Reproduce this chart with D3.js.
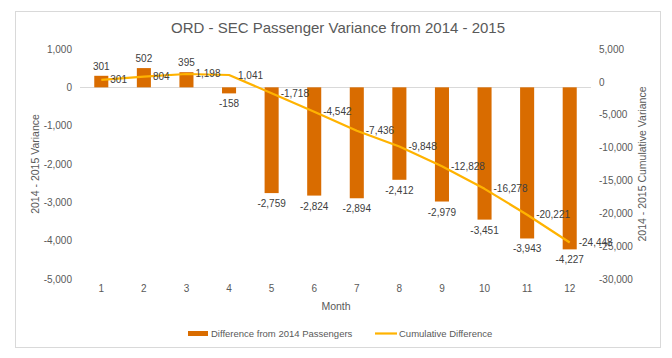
<!DOCTYPE html>
<html>
<head>
<meta charset="utf-8">
<script src="https://cdn.jsdelivr.net/npm/d3@7"></script>
<style>
  html, body { margin: 0; padding: 0; background: #fff; }
  svg { display: block; font-family: "Liberation Sans", Arial, sans-serif; }
</style>
</head>
<body>
<svg id="chart" width="672" height="358"></svg>
<script>
const months = [1, 2, 3, 4, 5, 6, 7, 8, 9, 10, 11, 12];
const difference = [301, 502, 395, -158, -2759, -2824, -2894, -2412, -2979, -3451, -3943, -4227];
const cumulative = [301, 804, 1198, 1041, -1718, -4542, -7436, -9848, -12828, -16278, -20221, -24448];
const leftTicks = [1000, 0, -1000, -2000, -3000, -4000, -5000];
const rightTicks = [5000, 0, -5000, -10000, -15000, -20000, -25000, -30000];
const titleText = "ORD - SEC Passenger Variance from 2014 - 2015";
const seriesNames = ["Difference from 2014 Passengers", "Cumulative Difference"];

const svg = d3.select("#chart");
const W = 672, H = 358;
const plot = { left: 80, right: 591, top: 49, bottom: 279 };
const barColor = "#D96C00";
const lineColor = "#FFB300";
const textGrey = "#595959";
const labelGrey = "#404040";
const locale = d3.formatLocale({ decimal: ".", thousands: ",", grouping: [3], currency: ["$", ""], minus: "-" });
const fmt = locale.format(",");
const FONT = "Liberation Sans, Arial, sans-serif";

svg.append("rect").attr("width", W).attr("height", H).attr("fill", "#fff");
svg.append("rect").attr("x", 15.5).attr("y", 11.5).attr("width", 645).attr("height", 336)
  .attr("fill", "#fff").attr("stroke", "#d9d9d9").attr("stroke-width", 1);

const x = d3.scaleBand().domain(months).range([plot.left, plot.right])
  .paddingInner(0.67).paddingOuter(0.335);
const yL = d3.scaleLinear().domain([-5000, 1000]).range([plot.bottom, plot.top]);
const yR = d3.scaleLinear().domain([-30000, 5000]).range([plot.bottom, plot.top]);

// title
svg.append("text").attr("x", 338).attr("y", 33).attr("text-anchor", "middle")
  .attr("font-size", 15).attr("fill", textGrey).text(titleText);

// left axis
const axL = svg.append("g").attr("transform", `translate(${plot.left - 8},0)`)
  .call(d3.axisLeft(yL).tickValues(leftTicks).tickFormat(fmt).tickSize(0).tickPadding(0));
axL.select(".domain").remove();
axL.selectAll("text").attr("font-size", 10).attr("fill", textGrey).attr("font-family", FONT);

// right axis
const axR = svg.append("g").attr("transform", `translate(${plot.right + 8},0)`)
  .call(d3.axisRight(yR).tickValues(rightTicks).tickFormat(fmt).tickSize(0).tickPadding(0));
axR.select(".domain").remove();
axR.selectAll("text").attr("font-size", 10).attr("fill", textGrey).attr("font-family", FONT);

// x axis labels
const axX = svg.append("g").attr("transform", `translate(0,${plot.bottom + 6})`)
  .call(d3.axisBottom(x).tickSize(0).tickPadding(0));
axX.select(".domain").remove();
axX.selectAll("text").attr("font-size", 10).attr("fill", textGrey).attr("font-family", FONT);

// zero line
svg.append("line").attr("x1", plot.left).attr("x2", plot.right)
  .attr("y1", Math.round(yL(0)) + 0.5).attr("y2", Math.round(yL(0)) + 0.5)
  .attr("stroke", "#d9d9d9").attr("stroke-width", 1);

// bars
svg.append("g").selectAll("rect").data(months).join("rect")
  .attr("x", (d) => x(d))
  .attr("width", x.bandwidth())
  .attr("y", (d, i) => Math.min(yL(0), yL(difference[i])))
  .attr("height", (d, i) => Math.abs(yL(difference[i]) - yL(0)))
  .attr("fill", barColor);

// bar labels
svg.append("g").selectAll("text").data(months).join("text")
  .attr("x", (d) => x(d) + x.bandwidth() / 2)
  .attr("y", (d, i) => difference[i] >= 0 ? yL(difference[i]) - 6 : yL(difference[i]) + 14)
  .attr("text-anchor", "middle").attr("font-size", 10).attr("fill", labelGrey)
  .text((d, i) => fmt(difference[i]));

// cumulative line
const line = d3.line().x((d, i) => x(months[i]) + x.bandwidth() / 2).y((d) => yR(d));
svg.append("path").datum(cumulative).attr("d", line)
  .attr("fill", "none").attr("stroke", lineColor).attr("stroke-width", 2.2)
  .attr("stroke-linejoin", "round");

// line labels
svg.append("g").selectAll("text").data(cumulative).join("text")
  .attr("x", (d, i) => x(months[i]) + x.bandwidth() / 2 + 9)
  .attr("y", (d) => yR(d) + 3.5)
  .attr("font-size", 10).attr("fill", labelGrey)
  .text((d) => fmt(d));

// axis titles
svg.append("text").attr("transform", `translate(39,${(plot.top + plot.bottom) / 2}) rotate(-90)`)
  .attr("text-anchor", "middle").attr("font-size", 10.5)
  .attr("fill", textGrey).text("2014 - 2015 Variance");
svg.append("text").attr("transform", `translate(646,${(plot.top + plot.bottom) / 2}) rotate(-90)`)
  .attr("text-anchor", "middle").attr("font-size", 10.5)
  .attr("fill", textGrey).text("2014 - 2015 Cumulative Variance");
svg.append("text").attr("x", 336).attr("y", 310).attr("text-anchor", "middle")
  .attr("font-size", 10.5).attr("fill", textGrey).text("Month");

// legend
const lg = svg.append("g");
lg.append("rect").attr("x", 188).attr("y", 331).attr("width", 20).attr("height", 5).attr("fill", barColor);
lg.append("text").attr("x", 211).attr("y", 337).attr("font-size", 9.5).attr("fill", textGrey).text(seriesNames[0]);
lg.append("line").attr("x1", 375).attr("x2", 397).attr("y1", 333.5).attr("y2", 333.5)
  .attr("stroke", lineColor).attr("stroke-width", 2.2);
lg.append("text").attr("x", 399).attr("y", 337).attr("font-size", 9.5).attr("fill", textGrey).text(seriesNames[1]);
</script>
</body>
</html>
